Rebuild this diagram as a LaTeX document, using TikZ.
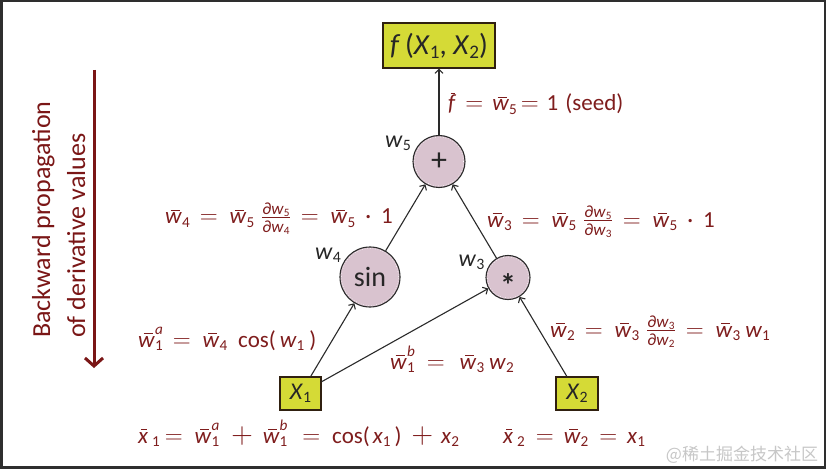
\documentclass[tikz,border=0pt]{standalone}
\usepackage{fontspec}
\usepackage{graphicx}
\setmainfont{Carlito}
\newfontfamily\cjk{Noto Sans CJK SC}
\usetikzlibrary{arrows.meta}
\definecolor{lbl}{HTML}{7F1D1D}
\definecolor{backarrow}{HTML}{7A1616}
\definecolor{opfill}{HTML}{D9C3CF}
\definecolor{boxfill}{HTML}{D5DA36}
\definecolor{frame}{HTML}{2E2E2E}
\definecolor{edgecol}{HTML}{2A2A2A}
% helper macros
\newcommand{\lo}[1]{\raisebox{-0.14em}{\scalebox{0.66}{#1}}}
\newcommand{\hi}[1]{\raisebox{0.55em}{\scalebox{0.66}{\textit{#1}}}}
\newcommand{\ob}[2][0.56em]{\setbox0=\hbox{\textit{#2}}\rlap{\hspace{0.32\wd0}\raisebox{#1}{\rule{0.55\wd0}{0.06em}}}\box0}
\newcommand{\wb}{\ob{w}}
\newcommand{\wbs}[1]{\wb\lo{#1}}
\newcommand{\wbsup}[2]{\wb\rlap{\hi{#2}}\lo{#1}}
\newcommand{\wi}[1]{\textit{w}\lo{#1}}
\newcommand{\xsub}[1]{\textit{x}\lo{#1}}
\newcommand{\xbs}[1]{\ob{x}\,\lo{#1}}
\newcommand{\eqg}[2]{\hspace{#1}$=$\hspace{#2}}
\newcommand{\eq}{\eqg{10pt}{12pt}}
\newcommand{\plg}[2]{\hspace{#1}\scalebox{1.2}{$+$}\hspace{#2}}
\newcommand{\pd}[2]{${\hbox{\fontsize{17}{17}\selectfont ∂\textit{w}\lo{#1}}\above 0.8pt\hbox{\fontsize{17}{17}\selectfont ∂\textit{w}\lo{#2}}}$}
\begin{document}
\begin{tikzpicture}[x=1pt,y=-1pt,
  opnode/.style={circle, draw=edgecol, line width=1.1pt, fill=opfill, inner sep=0pt, text=black!85},
  valbox/.style={rectangle, draw=black!75!brown, line width=1.1pt, fill=boxfill, inner sep=0pt, text=black!85},
  edge/.style={draw=edgecol, line width=1.1pt, -{Straight Barb[length=4pt,width=8pt]}},
  eqn/.style={text=lbl, inner sep=0pt, font=\fontsize{23}{26}\selectfont, anchor=base west},
  wlab/.style={text=black!85, inner sep=0pt, font=\fontsize{24}{26}\selectfont},
  inring/.style={draw=white, dotted, line width=0.6pt}
]
\useasboundingbox (0,0) rectangle (826,470);
\fill[white] (0,0) rectangle (826,470);
\draw[frame, line width=2.5pt] (1.25,1.25) rectangle (824.75,467.5);

% nodes
\node[valbox, minimum width=112pt, minimum height=45pt, font=\fontsize{29}{30}\selectfont] (f) at (439,45.5) {\textit{f}\,(\textit{X}\lo{1}, \textit{X}\lo{2})};
\node[opnode, minimum size=52pt, font=\fontsize{32}{32}\selectfont] (plus) at (439,161.5) {+};
\node[opnode, minimum size=60pt, font=\fontsize{28}{28}\selectfont] (sin) at (370,277) {sin};
\node[opnode, minimum size=44pt, font=\fontsize{32}{32}\selectfont\bfseries] (mul) at (508,277.5) {\smash{\raisebox{-0.58em}{*}}};
\node[valbox, minimum width=41pt, minimum height=33pt, font=\fontsize{24}{26}\selectfont] (x1) at (300.5,393.5) {\textit{X}\lo{1}};
\node[valbox, minimum width=42pt, minimum height=33pt, font=\fontsize{24}{26}\selectfont] (x2) at (577,393.5) {\textit{X}\lo{2}};

\draw[inring] (plus.center) circle[radius=24.5pt];
\draw[inring] (sin.center) circle[radius=28.5pt];
\draw[inring] (mul.center) circle[radius=20.5pt];

% edges
\draw[edge] (plus) -- (f);
\draw[edge] (sin) -- (plus);
\draw[edge] (mul) -- (plus);
\draw[edge] (x1) -- (sin);
\draw[edge] (x1) -- (mul);
\draw[edge] (x2) -- (mul);

% variable labels
\node[wlab] (w5) at (398,143) {\wi{5}};
\node[wlab] (w4) at (328,255) {\wi{4}};
\node[wlab] (w3) at (471.5,262) {\wi{3}};

% adjoint equations
\node[eqn] (lf) at (448,111) {\ob[0.74em]{f}\eqg{9pt}{9pt}\wbs{5}\eqg{4pt}{8pt}1\hspace{7pt}(seed)};
\node[eqn] (l4) at (165,224) {\wbs{4}\eq\wbs{5}\hspace{7pt}\pd{5}{4}\eq\wbs{5}\hspace{10pt}·\hspace{10pt}1};
\node[eqn] (l3) at (487,227) {\wbs{3}\eq\wbs{5}\hspace{7pt}\pd{5}{3}\eq\wbs{5}\hspace{10pt}·\hspace{10pt}1};
\node[eqn] (l1a) at (138,347) {\wbsup{1}{a}\eq\wbs{4}\hspace{11pt}cos(\hspace{4pt}\wi{1}\hspace{5pt})};
\node[eqn] (l1b) at (390,369) {\wbsup{1}{b}\eqg{12pt}{15pt}\wbs{3}\hspace{5pt}\wi{2}};
\node[eqn] (l2) at (550,337) {\wbs{2}\eq\wbs{3}\hspace{7pt}\pd{3}{2}\eq\wbs{3}\hspace{5pt}\wi{1}};
\node[eqn] (lx1) at (138,443) {\xbs{1}\eqg{5pt}{12pt}\wbsup{1}{a}\plg{12pt}{10pt}\wbsup{1}{b}\eqg{15pt}{12pt}cos(\hspace{3pt}\xsub{1}\hspace{4pt})\plg{10pt}{8pt}\xsub{2}};
\node[eqn] (lx2) at (503,443) {\xbs{2}\eqg{11pt}{10pt}\wbs{2}\eqg{11pt}{10pt}\xsub{1}};

% backward propagation arrow and caption
\coordinate (btop) at (94,70);
\coordinate (bbot) at (94,368);
\draw[backarrow, line width=3pt, -{Straight Barb[length=8pt,width=18pt,line width=3pt]}] (btop) -- (bbot);
\node[rotate=90, anchor=base west, inner sep=0pt, text=backarrow] (cap) at (85,338)
  {\fontsize{26}{35}\selectfont\begin{tabular}[b]{@{}l@{}}Backward propagation\\of derivative values\end{tabular}};

% watermark
\node[text=black!22, inner sep=0pt, font=\cjk\fontsize{17}{17}\selectfont] (wm) at (742,455) {@稀土掘金技术社区};
\end{tikzpicture}
\end{document}
